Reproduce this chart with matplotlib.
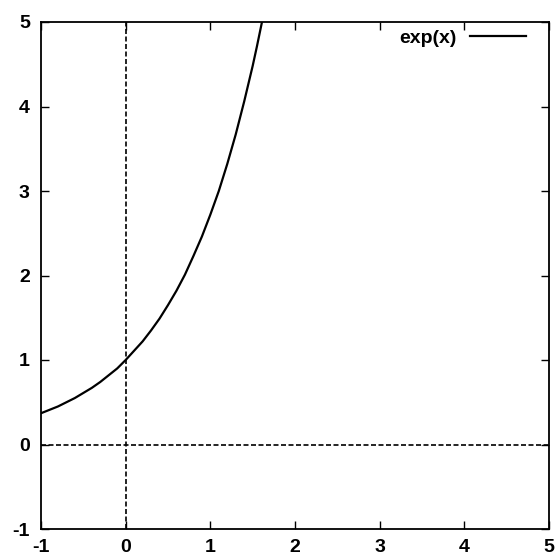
import numpy as np
import matplotlib.pyplot as plt

# points
x_vals = [-1.0, -0.9, -0.8, -0.7, -0.6, -0.5, -0.4, -0.3, -0.2, -0.1, 0.0,
          0.1, 0.2, 0.3, 0.4, 0.5, 0.6, 0.7, 0.8, 0.9, 1.0,
          1.1, 1.2, 1.3, 1.4, 1.5, 1.55, 1.61]
y_vals = [0.37, 0.41, 0.45, 0.50, 0.55, 0.61, 0.67, 0.74, 0.82, 0.90, 1.0,
          1.11, 1.22, 1.35, 1.49, 1.65, 1.82, 2.01, 2.23, 2.46, 2.72,
          3.00, 3.32, 3.67, 4.06, 4.48, 4.71, 5.0]
ticks = [-1, 0, 1, 2, 3, 4, 5]

plt.rcParams['font.family'] = ['Liberation Sans', 'DejaVu Sans']

fig = plt.figure(figsize=(5.56, 5.58), dpi=100)
ax = fig.add_axes([41/556, 29/558, 508/556, 507/558])

ax.axhline(0, color='black', lw=1.2, ls=(0, (3, 1.5)))
ax.axvline(0, color='black', lw=1.2, ls=(0, (3, 1.5)))
ax.plot(x_vals, y_vals, color='black', lw=1.6, label='exp(x)')

ax.set_xlim(-1, 5)
ax.set_ylim(-1, 5)
ax.set_xticks(ticks)
ax.set_yticks(ticks)
ax.set_xticklabels([str(t) for t in ticks], fontweight='bold', fontsize=14)
ax.set_yticklabels([str(t) for t in ticks], fontweight='bold', fontsize=14)
ax.tick_params(direction='in', length=6, width=1.0, top=True, right=True)
ax.tick_params(axis='x', pad=7)
ax.tick_params(axis='y', pad=8)
for s in ax.spines.values():
    s.set_linewidth(1.3)

leg = ax.legend(loc='center right', bbox_to_anchor=(0.9547, 0.968),
                frameon=False, markerfirst=False, borderaxespad=0, borderpad=0,
                handlelength=2.9, handletextpad=0.65,
                prop={'weight': 'bold', 'size': 14})

fig.savefig('out.png', dpi=100)
